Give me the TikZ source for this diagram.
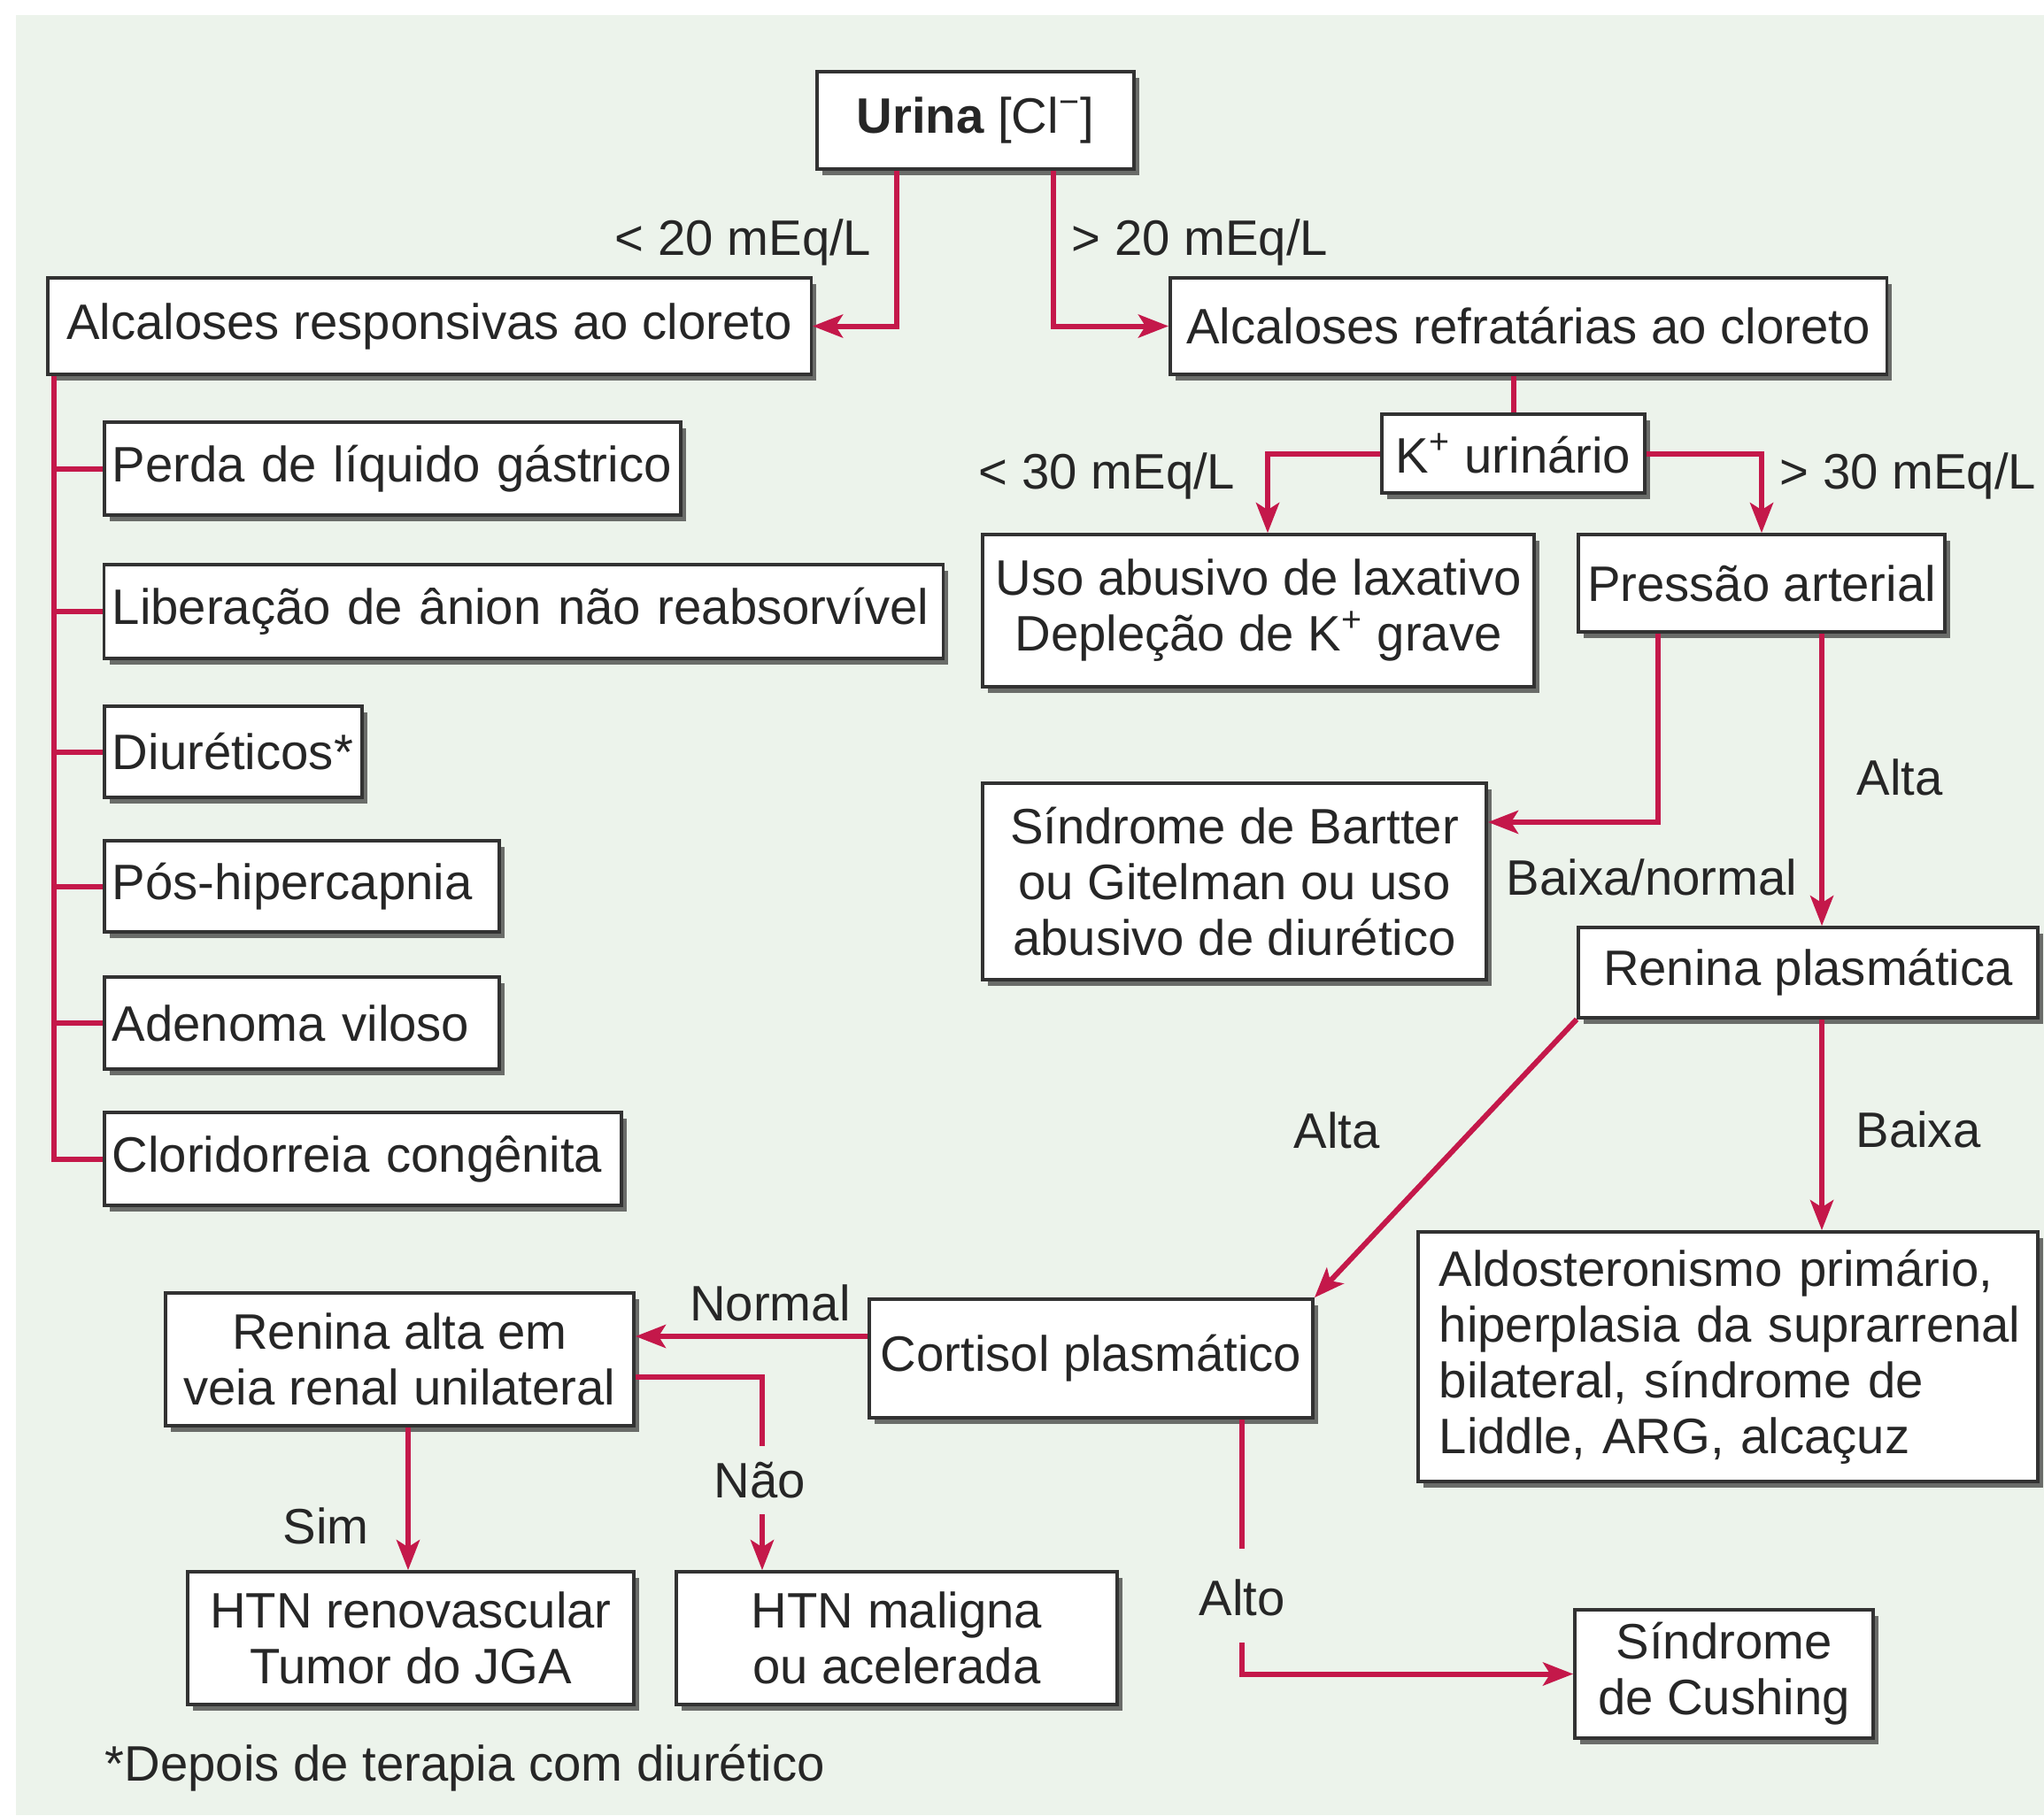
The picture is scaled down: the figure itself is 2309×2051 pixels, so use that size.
\documentclass[tikz,border=0pt]{standalone}
\usepackage{fontspec}
\setmainfont{Liberation Sans}
\usetikzlibrary{arrows.meta,shadows}
\definecolor{panel}{RGB}{236,243,235}
\definecolor{flow}{RGB}{196,24,74}
\definecolor{ink}{RGB}{38,38,38}
\definecolor{frame}{RGB}{50,50,50}

\begin{document}
\begin{tikzpicture}[x=0.01cm,y=-0.01cm,
  every node/.style={font=\fontsize{16}{17.9}\selectfont, text=ink},
  box/.style={draw=frame, line width=0.035cm, fill=white, inner sep=0.05cm, align=center,
    drop shadow={shadow xshift=0.06cm, shadow yshift=-0.07cm, fill=black!80, opacity=0.7}},
  lbox/.style={box, inner xsep=0.09cm, inner ysep=0cm, text width=#1, align=left},
  conn/.style={draw=flow, line width=0.06cm},
  arr/.style={conn, -{Stealth[length=0.34cm,width=0.26cm,inset=0.08cm]}},
  lbl/.style={inner sep=0pt, anchor=base}]

% page and tinted panel
\fill[white] (0,0) rectangle (2309,2051);
\fill[panel] (18,17) rectangle (2309,2051);
\useasboundingbox (0,0) rectangle (2309,2051);

% decision boxes
\node[box, minimum width=3.58cm, minimum height=1.10cm] (urina) at (1102,136) {\textbf{Urina} [Cl\textsuperscript{−}]};
\node[box, minimum width=8.62cm, minimum height=1.09cm] (resp) at (485,368.5) {Alcaloses responsivas ao cloreto};
\node[box, minimum width=8.09cm, minimum height=1.09cm] (refr) at (1726.5,368.5) {Alcaloses refratárias ao cloreto};
\node[box, minimum width=2.97cm, minimum height=0.89cm] (kur) at (1709.5,512.5) {K\textsuperscript{+} urinário};
\node[box, minimum width=6.23cm, minimum height=1.72cm] (lax) at (1421.5,690) {Uso abusivo de laxativo\\Depleção de K\textsuperscript{+} grave};
\node[box, minimum width=4.14cm, minimum height=1.10cm] (press) at (1990,659) {Pressão arterial};
\node[box, minimum width=5.69cm, minimum height=2.22cm] (bartter) at (1394.5,996) {Síndrome de Bartter\\ou Gitelman ou uso\\abusivo de diurético};
\node[box, minimum width=5.19cm, minimum height=1.02cm] (renina) at (2042.5,1099) {Renina plasmática};
\node[box, align=left, text width=6.52cm, inner xsep=0.24cm, minimum height=2.82cm] (aldo) at (1952,1533)
  {\mbox{Aldosteronismo primário,}\\\mbox{hiperplasia da suprarrenal}\\\mbox{bilateral, síndrome de}\\\mbox{Liddle, ARG, alcaçuz}};
\node[box, minimum width=5.01cm, minimum height=1.34cm] (cortisol) at (1232.5,1535) {Cortisol plasmático};
\node[box, minimum width=5.29cm, minimum height=1.50cm] (renalta) at (451.5,1536) {Renina alta em\\veia renal unilateral};
\node[box, minimum width=5.04cm, minimum height=1.50cm] (htnreno) at (464,1851) {HTN renovascular\\Tumor do JGA};
\node[box, minimum width=4.98cm, minimum height=1.50cm] (htnmal) at (1013,1851) {HTN maligna\\ou acelerada};
\node[box, minimum width=3.37cm, minimum height=1.45cm] (cushing) at (1947.5,1891.5) {Síndrome\\de Cushing};

% causes of chloride-responsive alkalosis
\node[lbox=6.33cm, minimum height=1.05cm] (perda) at (443.5,529.5) {\mbox{Perda de líquido gástrico}};
\node[lbox=9.29cm, minimum height=1.06cm] (liber) at (591.5,691) {\mbox{Liberação de ânion não reabsorvível}};
\node[lbox=2.73cm, minimum height=1.03cm] (diur) at (263.5,849.5) {\mbox{Diuréticos*}};
\node[lbox=4.28cm, minimum height=1.03cm] (pos) at (341,1001.5) {\mbox{Pós-hipercapnia}};
\node[lbox=4.28cm, minimum height=1.04cm] (aden) at (341,1156) {\mbox{Adenoma viloso}};
\node[lbox=5.66cm, minimum height=1.05cm] (clor) at (410,1309.5) {\mbox{Cloridorreia congênita}};

% branch labels
\node[lbl, anchor=base east] (l20) at (985,288) {< 20 mEq/L};
\node[lbl, anchor=base west] (g20) at (1210,288) {> 20 mEq/L};
\node[lbl, anchor=base east] (l30) at (1396,552) {< 30 mEq/L};
\node[lbl, anchor=base west] (g30) at (2010,552) {> 30 mEq/L};
\node[lbl] (altaP) at (2146,898) {Alta};
\node[lbl] (baixaN) at (1866,1011) {Baixa/normal};
\node[lbl] (altaR) at (1510,1297) {Alta};
\node[lbl] (baixaR) at (2167,1296) {Baixa};
\node[lbl] (normal) at (870,1492) {Normal};
\node[lbl] (nao) at (858,1692) {Não};
\node[lbl] (sim) at (368,1744) {Sim};
\node[lbl] (alto) at (1403,1825) {Alto};
\node[lbl, anchor=base west] (nota) at (118,2012) {*Depois de terapia com diurético};

% connectors
\draw[arr] ([xshift=-0.89cm]urina.south) |- (resp.east);
\draw[arr] ([xshift=0.88cm]urina.south) |- (refr.west);
\draw[conn] (refr.south -| kur.north) -- (kur.north);
\draw[arr] (kur.west) -| ([xshift=0.105cm]lax.north);
\draw[arr] (kur.east) -| (press.north);
\draw[arr] ([xshift=-1.17cm]press.south) |- ([yshift=0.67cm]bartter.east);
\coordinate (pa) at ([xshift=0.68cm]press.south);
\draw[arr] (pa) -- (pa |- renina.north);
\draw[arr] (renina.south west) -- (cortisol.north east);
\coordinate (rb) at ([xshift=0.155cm]renina.south);
\draw[arr] (rb) -- (rb |- aldo.north);
\coordinate (cw) at ([yshift=0.25cm]cortisol.west);
\draw[arr] (cw) -- (cw -| renalta.east);
\coordinate (re) at ([yshift=-0.2cm]renalta.east);
\coordinate (n1) at (861,1634);
\coordinate (n2) at (861,1711);
\draw[conn] (re) -| (n1);
\draw[arr] (n2) -- (n2 |- htnmal.north);
\coordinate (rs) at ([xshift=0.095cm]renalta.south);
\draw[arr] (rs) -- (rs |- htnreno.north);
\coordinate (a1) at (1403,1750);
\coordinate (a2) at (1403,1856);
\draw[conn] (a1 |- cortisol.south) -- (a1);
\draw[arr] (a2) |- (cushing.west);

% bracket joining the responsive causes
\coordinate (lv) at ([xshift=0.09cm]resp.south west);
\draw[conn] (lv) |- (clor.west);
\foreach \n in {perda,liber,diur,pos,aden}
  \draw[conn] (lv |- \n.west) -- (\n.west);
\end{tikzpicture}
\end{document}
